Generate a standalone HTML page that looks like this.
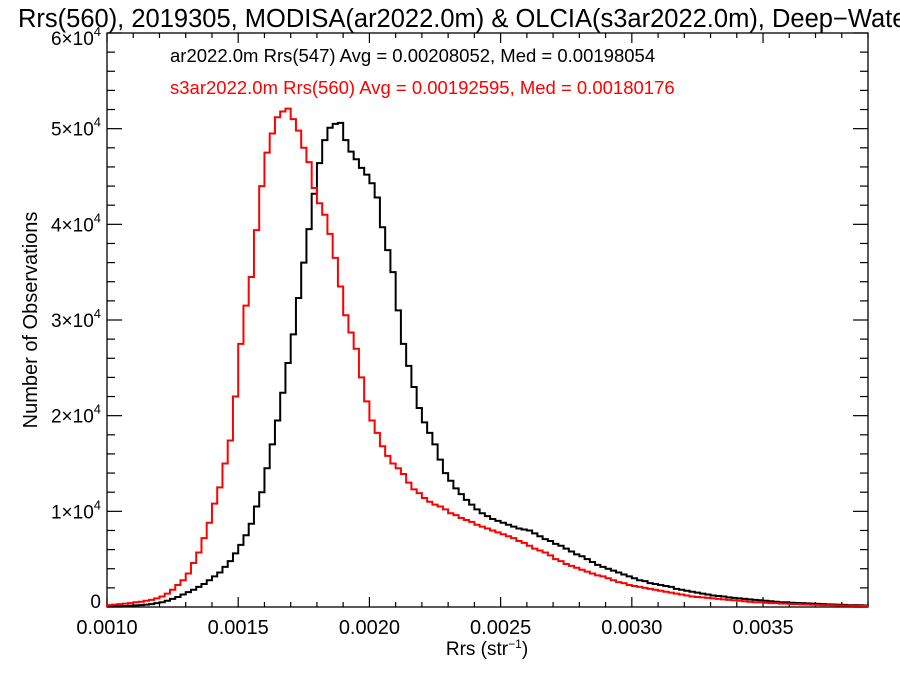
<!DOCTYPE html>
<html><head><meta charset="utf-8"><style>
html,body{margin:0;padding:0;background:#fff;overflow:hidden;}
svg{display:block;font-family:"Liberation Sans",Arial,sans-serif;}
</style></head><body>
<svg id="chart" width="900" height="675" viewBox="0 0 900 675" xmlns="http://www.w3.org/2000/svg">
<text x="18" y="27" font-size="25.5" fill="#000">Rrs(560), 2019305, MODISA(ar2022.0m) &amp; OLCIA(s3ar2022.0m), Deep−Water</text>
<text x="170" y="62" font-size="18.5" fill="#000">ar2022.0m Rrs(547) Avg = 0.00208052, Med = 0.00198054</text>
<text x="170" y="94" font-size="18.5" fill="#ff0000">s3ar2022.0m Rrs(560) Avg = 0.00192595, Med = 0.00180176</text>
<text transform="translate(37,320) rotate(-90)" text-anchor="middle" font-size="20">Number of Observations</text>
<text x="487" y="655" text-anchor="middle" font-size="19">Rrs (str<tspan dy="-7" font-size="12">−1</tspan><tspan dy="7">)</tspan></text>
<g id="axes"></g>
<g id="series"></g>
</svg>
<script>
const binStart = 0.001;
const binWidth = 0.00002;
const redCounts = [0.2,0.25,0.3,0.35,0.4,0.5,0.55,0.65,0.75,0.9,1.1,1.4,1.8,2.3,2.8,3.5,4.6,5.7,7.2,8.8,10.8,12.5,15.0,17.4,22,27.5,31.5,34.5,39.4,44,47.5,49.5,51.2,51.8,52.1,51,49.8,48,46.5,43.8,42.2,41,39,36.5,33.5,30.5,28.7,27,24,21.5,19.5,18.2,16.8,15.8,15,14.5,13.9,13,12.3,11.9,11.4,11,10.7,10.5,10.2,9.8,9.6,9.3,9.1,8.9,8.6,8.4,8.2,8,7.8,7.6,7.4,7.2,6.9,6.7,6.4,6.1,5.9,5.7,5.4,5.0,4.8,4.5,4.3,4.1,3.9,3.7,3.5,3.3,3.2,3.0,2.8,2.6,2.5,2.3,2.2,2.1,2.0,1.9,1.8,1.7,1.6,1.5,1.4,1.3,1.2,1.1,1.05,1.0,0.95,0.9,0.85,0.8,0.75,0.7,0.65,0.6,0.55,0.5,0.5,0.45,0.4,0.4,0.35,0.35,0.3,0.3,0.28,0.26,0.24,0.22,0.2,0.19,0.18,0.16,0.15,0.14,0.13,0.12,0.1];
const blackCounts = [0.05,0.06,0.08,0.1,0.13,0.17,0.2,0.25,0.3,0.4,0.5,0.65,0.85,1.05,1.3,1.55,1.8,2.1,2.4,2.8,3.2,3.6,4.2,4.8,5.6,6.5,7.5,8.7,10.5,12.0,14.5,17.0,19.5,22.4,25.5,28.5,32.3,36,39.5,43.2,46.4,48.8,50.1,50.5,50.6,48.8,47.6,46.8,45.9,45.2,44.3,42.8,39.7,37.3,35,31,27.5,25.2,23,20.8,19.3,18.2,17,15.4,14,13.2,12.4,11.8,11.2,10.7,10.2,9.8,9.5,9.2,9.0,8.8,8.6,8.4,8.2,8.1,8.0,7.7,7.4,7.1,6.9,6.6,6.4,6.1,5.8,5.5,5.3,5.0,4.7,4.4,4.2,4.0,3.8,3.6,3.4,3.2,3.0,2.8,2.7,2.5,2.4,2.3,2.2,2.1,1.9,1.8,1.7,1.6,1.5,1.4,1.3,1.2,1.15,1.1,1.0,0.95,0.9,0.85,0.8,0.75,0.7,0.65,0.6,0.55,0.5,0.5,0.45,0.42,0.4,0.38,0.35,0.33,0.3,0.28,0.26,0.24,0.22,0.2,0.19,0.18,0.16];
const xTickValues = [0.0010,0.0015,0.0020,0.0025,0.0030,0.0035];
const xTickLabels = ["0.0010","0.0015","0.0020","0.0025","0.0030","0.0035"];
const yTickValues = [0,10,20,30,40,50,60];
const yTickMant = ["0","1","2","3","4","5","6"];

const L=107,R=868,T=33,B=607, xMin=0.001,xMax=0.0039,yMax=60;
const NS="http://www.w3.org/2000/svg";
function xs(v){return L+(v-xMin)/(xMax-xMin)*(R-L);}
function ys(v){return B-v/yMax*(B-T);}
function mk(tag,attrs,parent){const e=document.createElementNS(NS,tag);for(const k in attrs)e.setAttribute(k,attrs[k]);parent.appendChild(e);return e;}
const axes=document.getElementById('axes');
const frame=mk('rect',{x:L,y:T,width:R-L,height:B-T,fill:'none',stroke:'#000','stroke-width':1.3},axes);


for(let k=0;k<=29;k++){
  const v=xMin+k*0.0001; const x=xs(v); const major=(k%5===0); const len=major?10:5;
  const t1=mk('line',{x1:x,x2:x,y1:B,y2:B-len,stroke:'#000','stroke-width':1.2},axes);
  
  
  const t2=mk('line',{x1:x,x2:x,y1:T,y2:T+len,stroke:'#000','stroke-width':1.2},axes);
  
  
}
xTickValues.forEach((v,i)=>{
  const t=mk('text',{x:xs(v),y:634,'text-anchor':'middle','font-size':20},axes);
  t.textContent=xTickLabels[i];
  
  
});
for(let k=0;k<=30;k++){
  const v=k*2; const y=ys(v); const major=(k%5===0); const len=major?15:8;
  const t1=mk('line',{x1:L,x2:L+len,y1:y,y2:y,stroke:'#000','stroke-width':1.2},axes);
  
  
  const t2=mk('line',{x1:R,x2:R-len,y1:y,y2:y,stroke:'#000','stroke-width':1.2},axes);
  
  
}
yTickValues.forEach((v,i)=>{
  let by=ys(v)+7; if(v===0) by=ys(v)+1; if(v===yMax) by=ys(v)+12;
  const t=mk('text',{x:L-6,y:by,'text-anchor':'end','font-size':19},axes);
  
  
  if(v===0){t.textContent='0';}
  else{
    const a=document.createElementNS(NS,'tspan');a.textContent=yTickMant[i]+'×10';t.appendChild(a);
    const b=document.createElementNS(NS,'tspan');b.setAttribute('dy','-9');b.setAttribute('font-size','13');b.textContent='4';t.appendChild(b);
  }
});
const series=document.getElementById('series');
function stepPath(arr){
  let d='M'+xs(binStart).toFixed(2)+','+ys(0).toFixed(2);
  arr.forEach((c,i)=>{
    const x0=xs(binStart+i*binWidth), x1=xs(binStart+(i+1)*binWidth), y=ys(c);
    d+=' L'+x0.toFixed(2)+','+y.toFixed(2)+' L'+Math.min(x1,R).toFixed(2)+','+y.toFixed(2);
  });
  return d;
}
const pb=mk('path',{d:stepPath(blackCounts),fill:'none',stroke:'#000','stroke-width':2},series);


const pr=mk('path',{d:stepPath(redCounts),fill:'none',stroke:'#ff0000','stroke-width':2},series);


</script>
</body></html>
